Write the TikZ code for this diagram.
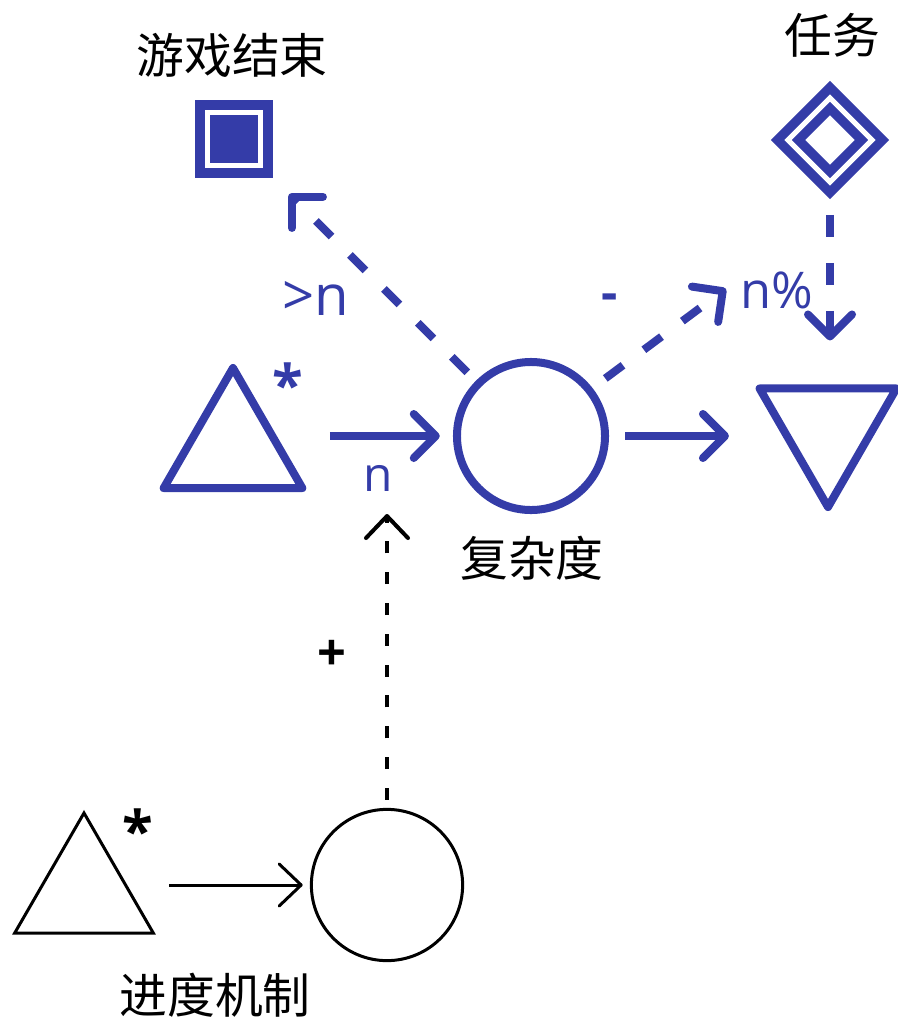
\documentclass[tikz,border=0pt]{standalone}
\usepackage{fontspec}
\setmainfont{Open Sans}
\newfontfamily\cjk{Noto Sans CJK SC}
\usetikzlibrary{%
	calc,%
	arrows.meta,%
	shapes.geometric,%
	positioning,%
}
\definecolor{cblue}{RGB}{52, 60, 168}
\tikzset{
	>={Straight Barb[length=0.55cm,width=1.1cm,round]},%
	px/.style={x=0.025cm,y=-0.025cm},%
	bluenode/.style={%
			draw=cblue,%
			line width=0.2cm,%
			line join=round,%
			fill=white,%
			inner sep=0},%
	blacknode/.style={%
			draw=black,%
			line width=0.075cm,%
			fill=white,%
			inner sep=0},%
	sourcenode/.style={%
			regular polygon,%
			regular polygon sides=3,%
			minimum size=4cm},%
	drainnode/.style={%
			regular polygon,%
			regular polygon sides=3,%
			regular polygon rotate=180,%
			minimum size=3.95cm},%
	poolnode/.style={%
			circle,%
			minimum size=3.7cm},%
	endnode/.style={%
			rectangle,%
			draw=cblue,%
			fill=cblue,%
			double=white,%
			double distance=0.125cm,%
			line width=0.25cm,%
			minimum size=1.325cm,%
			inner sep=0},%
	goalnode/.style={%
			diamond,%
			draw=cblue,%
			fill=white,%
			double=white,%
			double distance=0.125cm,%
			line width=0.24cm,%
			minimum size=2.2cm,%
			inner sep=0},%
	cjklabel/.style={%
			font={\cjk\fontsize{34}{40}\selectfont},%
			text=black,%
			inner sep=0},%
	bluelabel/.style={%
			font={\fontsize{34}{38}\selectfont},%
			text=cblue,%
			inner sep=0},%
	blacklabel/.style={%
			font={\bfseries\fontsize{36}{40}\selectfont},%
			text=black,%
			inner sep=0},%
	starlabel/.style={%
			font={\bfseries\fontsize{40}{40}\selectfont},%
			inner sep=0},%
	blueflow/.style={->, draw=cblue, line width=0.2cm},%
	bluestate/.style={->, draw=cblue, line width=0.2cm, dash pattern=on 0.55cm off 0.65cm},%
	blackflow/.style={-{Straight Barb[length=0.55cm,width=1.05cm,round]}, draw=black, line width=0.075cm},%
	blackstate/.style={-{Straight Barb[length=0.55cm,width=1.05cm,round]}, draw=black, line width=0.1cm, dash pattern=on 0.3cm off 0.47cm},%
}

\begin{document}
\begin{tikzpicture}[px]
	\useasboundingbox (0,0) rectangle (898,1020);

	\node[bluenode, sourcenode] (srcauto) at (233,448) {};
	\node[bluelabel, starlabel] (srcstar) at (288,384) {*};

	\node[bluenode, poolnode] (complexity) at (531,436) {};
	\node[cjklabel] (complexitylbl) at (532,558) {复杂度};

	\node[bluenode, drainnode] (drain) at (828,428) {};

	\node[endnode] (gameover) at (234,139) {};
	\node[cjklabel] (gameoverlbl) at (232,55) {游戏结束};

	\node[goalnode] (quest) at (830,140) {};
	\node[cjklabel] (questlbl) at (832,35) {任务};

	\node[blacknode, sourcenode] (progsrc) at (84,893) {};
	\node[blacklabel, starlabel] (progstar) at (138,830) {*};

	\node[blacknode, poolnode, minimum size=3.78cm] (progress) at (387,885) {};
	\node[cjklabel] (progresslbl) at (215,995) {进度机制};

	\node[bluelabel] (nlbl) at (378,478) {n};
	\node[bluelabel, font={\fontsize{40}{44}\selectfont}] (gtlbl) at (316,298) {>n};
	\node[bluelabel, font={\bfseries\fontsize{36}{40}\selectfont}] (minuslbl) at (610,302) {-};
	\node[bluelabel, font={\fontsize{36}{40}\selectfont}] (pctlbl) at (777,290) {n\%};
	\node[blacklabel] (pluslbl) at (332,655) {+};

	\draw[blueflow, shorten <=1.15cm, shorten >=0.33cm] (srcauto.east |- complexity) -- (complexity);
	\draw[blueflow, shorten <=0.4cm, shorten >=1.22cm] (complexity.east) -- (complexity.east -| drain.west);
	\draw[bluestate, shorten <=0.65cm, shorten >=1.1cm] (quest.south) -- (quest.south |- drain.north);
	\draw[bluestate, shorten <=0.4cm, shorten >=0.45cm] (complexity.38) -- ([yshift=0.3cm]pctlbl.west);
	\draw[bluestate, shorten <=0.3cm, shorten >=0.83cm] (complexity.135) -- (gameover.south east);
	\draw[blackflow, shorten <=0.93cm, shorten >=0.18cm] (progsrc.east |- progress) -- (progress);
	\draw[blackstate, shorten <=0.2cm] (progress.north) -- (progress.north |- complexity.south);
\end{tikzpicture}
\end{document}
